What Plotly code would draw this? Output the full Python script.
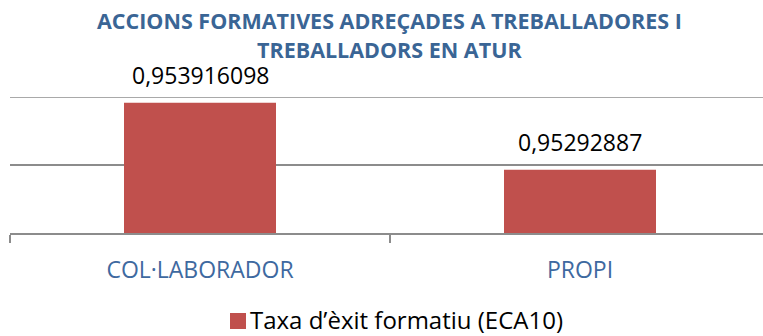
import plotly.graph_objects as go

# Chart data
categories = ["COL·LABORADOR", "PROPI"]
taxa_exit = [0.953916098, 0.95292887]
series_name = "Taxa d’èxit formatiu (ECA10)"
title_lines = ["ACCIONS FORMATIVES ADREÇADES A TREBALLADORES I", "TREBALLADORS EN ATUR"]
y_min, y_max, y_step = 0.952, 0.954, 0.001

BAR_RED = "#C0504D"
TITLE_BLUE = "#3A6595"
LABEL_BLUE = "#3E69A0"
GRID = "#8C8C8C"
FONT = "Open Sans"

# plot area in pixels (used to place items drawn outside it)
PLOT_LEFT, PLOT_WIDTH = 10, 753
PLOT_BOTTOM, PLOT_HEIGHT = 233, 136


def px_x(px):
    return (px - PLOT_LEFT) / PLOT_WIDTH


def px_y(py):
    return (PLOT_BOTTOM - py) / PLOT_HEIGHT


def fmt_comma(v):
    # decimal comma, as written in Catalan
    return str(v).replace(".", ",")


fig = go.Figure()
fig.add_trace(go.Bar(
    x=categories,
    y=taxa_exit,
    name=series_name,
    marker=dict(color=BAR_RED, line=dict(width=0)),
    showlegend=False,
))

# value labels above each bar
for cat, v in zip(categories, taxa_exit):
    fig.add_annotation(
        x=cat, y=v, text=fmt_comma(v), showarrow=False,
        yanchor="bottom", yshift=10,
        font=dict(family=FONT, size=23, color="#000000"),
    )

# two-line bold title, placed above the plot area
for text, ty in zip(title_lines, [1.5625, 1.3456]):
    fig.add_annotation(
        xref="paper", yref="paper", x=0.5046, y=ty,
        xanchor="center", yanchor="middle",
        text=text, showarrow=False,
        font=dict(family=FONT, size=21.5, color=TITLE_BLUE, weight="bold"),
    )

# gridline on the top edge of the value range
fig.add_shape(
    type="line", xref="paper", yref="y",
    x0=0, x1=1, y0=y_max, y1=y_max,
    line=dict(color=GRID, width=1.5), layer="below",
)

# series key at the bottom: colour swatch + series name
fig.add_shape(
    type="rect", xref="paper", yref="paper",
    x0=px_x(230), x1=px_x(246), y0=px_y(329), y1=px_y(313),
    fillcolor=BAR_RED, line=dict(width=0),
)
fig.add_annotation(
    xref="paper", yref="paper", x=px_x(248), y=px_y(319.5),
    xanchor="left", yanchor="middle",
    text=series_name, showarrow=False,
    font=dict(family=FONT, size=24, color="#000000"),
)

fig.update_layout(
    width=763, height=336,
    margin=dict(l=PLOT_LEFT, r=0, t=97, b=103, autoexpand=False),
    paper_bgcolor="white", plot_bgcolor="white",
    bargap=0.6,
    font=dict(family=FONT),
    showlegend=False,
    xaxis=dict(
        type="category",
        range=[-0.5, -0.5 + PLOT_WIDTH / 380],
        tickson="boundaries",
        ticks="outside", ticklen=8, tickwidth=1.5, tickcolor=GRID,
        showline=True, linecolor=GRID, linewidth=1.5,
        showgrid=False,
        ticklabelstandoff=16,
        tickfont=dict(family=FONT, size=23, color=LABEL_BLUE),
    ),
    yaxis=dict(
        range=[y_min, y_max],
        tick0=y_min, dtick=y_step,
        showticklabels=False,
        showgrid=True, gridcolor=GRID, gridwidth=1.5,
        zeroline=False, showline=False, ticks="",
    ),
)

fig.write_html("out.html")
